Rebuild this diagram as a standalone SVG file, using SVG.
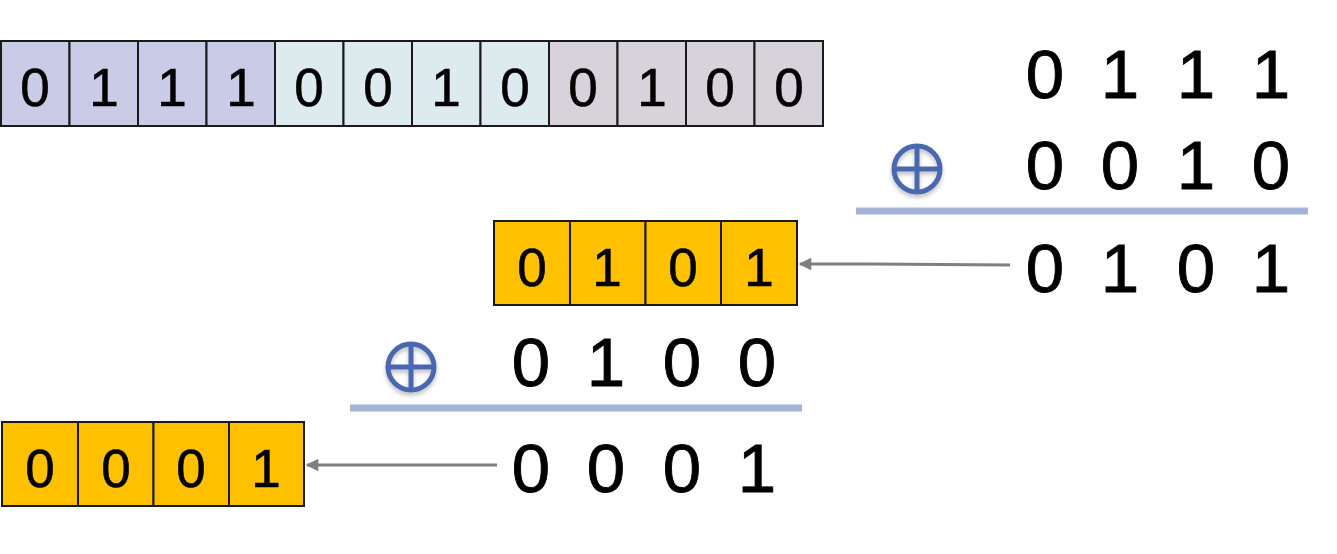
<svg xmlns="http://www.w3.org/2000/svg" width="1337" height="554" viewBox="0 0 1337 554">
<style>
.cell{stroke:#1a1a1a;stroke-width:2}
.p{fill:#CACBE7}.b{fill:#DDEBEF}.g{fill:#D8D3DA}.y{fill:#FFC000}
.cd{font-family:"Liberation Sans",Arial,sans-serif;font-size:53px;fill:#000;stroke:#000;stroke-width:0.6;text-anchor:middle}
.big{font-family:"Liberation Sans",Arial,sans-serif;font-size:69px;fill:#000;stroke:#000;stroke-width:0.9;text-anchor:middle}
.rule{stroke:#A5B3D6;stroke-width:7}
.xor{fill:none;stroke:#4A67B0;stroke-width:5}
.arr{stroke:#7F7F7F;stroke-width:3;fill:none;marker-end:url(#ah)}
</style>
<defs>
<marker id="ah" viewBox="0 0 10 10" refX="9" refY="5" markerWidth="5.5" markerHeight="4.2" orient="auto" markerUnits="strokeWidth">
<path d="M0,0 L10,5 L0,10 z" fill="#7F7F7F"/>
</marker>
<filter id="sh" x="-30%" y="-30%" width="160%" height="170%">
<feDropShadow dx="0" dy="3" stdDeviation="2" flood-color="#000" flood-opacity="0.25"/>
</filter>
<g id="xorsym" filter="url(#sh)"><circle cx="0" cy="0" r="23" class="xor"/><line x1="-23" y1="0" x2="23" y2="0" class="xor"/><line x1="0" y1="-23" x2="0" y2="23" class="xor"/></g>
</defs>
<rect width="1337" height="554" fill="#fff"/>
<g id="top-register">
<rect class="cell p" x="1" y="41" width="68.5" height="85"/>
<rect class="cell p" x="69.5" y="41" width="68.5" height="85"/>
<rect class="cell p" x="138" y="41" width="68.5" height="85"/>
<rect class="cell p" x="206.5" y="41" width="68.5" height="85"/>
<rect class="cell b" x="275" y="41" width="68.5" height="85"/>
<rect class="cell b" x="343.5" y="41" width="68.5" height="85"/>
<rect class="cell b" x="412" y="41" width="68.5" height="85"/>
<rect class="cell b" x="480.5" y="41" width="68.5" height="85"/>
<rect class="cell g" x="549" y="41" width="68.5" height="85"/>
<rect class="cell g" x="617.5" y="41" width="68.5" height="85"/>
<rect class="cell g" x="686" y="41" width="68.5" height="85"/>
<rect class="cell g" x="754.5" y="41" width="68.5" height="85"/>
<text class="cd" y="106"><tspan x="35">0</tspan><tspan x="104">1</tspan><tspan x="172">1</tspan><tspan x="241">1</tspan><tspan x="309">0</tspan><tspan x="378">0</tspan><tspan x="446">1</tspan><tspan x="515">0</tspan><tspan x="583">0</tspan><tspan x="652">1</tspan><tspan x="720">0</tspan><tspan x="789">0</tspan></text>
</g>
<g id="sum1">
<text class="big" y="98"><tspan x="1045">0</tspan><tspan x="1120">1</tspan><tspan x="1196">1</tspan><tspan x="1271">1</tspan></text>
<use href="#xorsym" x="917" y="169"/>
<text class="big" y="189"><tspan x="1045">0</tspan><tspan x="1120">0</tspan><tspan x="1196">1</tspan><tspan x="1271">0</tspan></text>
<line class="rule" x1="856" y1="211" x2="1308" y2="211"/>
<text class="big" y="292"><tspan x="1045">0</tspan><tspan x="1120">1</tspan><tspan x="1196">0</tspan><tspan x="1271">1</tspan></text>
</g>
<g id="result1">
<rect class="cell y" x="494" y="221" width="76" height="84"/>
<rect class="cell y" x="570" y="221" width="75.5" height="84"/>
<rect class="cell y" x="645.5" y="221" width="75.5" height="84"/>
<rect class="cell y" x="721" y="221" width="76" height="84"/>
<text class="cd" y="286"><tspan x="532">0</tspan><tspan x="607">1</tspan><tspan x="683">0</tspan><tspan x="759">1</tspan></text>
</g>
<g id="sum2">
<use href="#xorsym" x="411" y="367"/>
<text class="big" y="386"><tspan x="531">0</tspan><tspan x="606">1</tspan><tspan x="682">0</tspan><tspan x="757">0</tspan></text>
<line class="rule" x1="350" y1="408" x2="802" y2="408"/>
<text class="big" y="492"><tspan x="531">0</tspan><tspan x="606">0</tspan><tspan x="682">0</tspan><tspan x="757">1</tspan></text>
</g>
<g id="result2">
<rect class="cell y" x="2" y="422" width="76" height="84"/>
<rect class="cell y" x="78" y="422" width="75.5" height="84"/>
<rect class="cell y" x="153.5" y="422" width="75.5" height="84"/>
<rect class="cell y" x="229" y="422" width="75" height="84"/>
<text class="cd" y="487"><tspan x="40">0</tspan><tspan x="116">0</tspan><tspan x="191">0</tspan><tspan x="266">1</tspan></text>
</g>
<g id="connectors">
<path class="arr" d="M1010,265 L870,264 L800,264"/>
<path class="arr" d="M497,465 L307,465"/>
</g>
</svg>
